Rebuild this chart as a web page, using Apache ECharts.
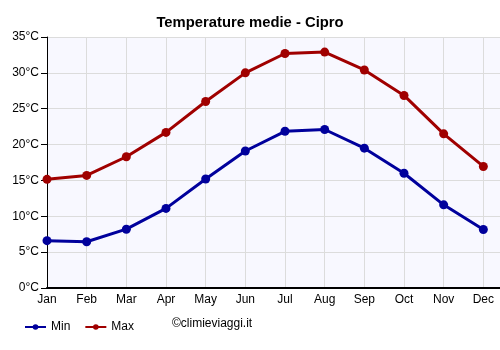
<!DOCTYPE html>
<html>
<head>
<meta charset="utf-8">
<script src="https://cdn.jsdelivr.net/npm/echarts@6/dist/echarts.min.js"></script>
<style>
  html, body { margin: 0; padding: 0; background: #fff; }
  #chart { width: 500px; height: 350px; }
</style>
</head>
<body>
<div id="chart"></div>
<script>
var months = ['Jan', 'Feb', 'Mar', 'Apr', 'May', 'Jun', 'Jul', 'Aug', 'Sep', 'Oct', 'Nov', 'Dec'];
var tMin = [6.6, 6.45, 8.2, 11.1, 15.2, 19.1, 21.85, 22.1, 19.5, 16.0, 11.6, 8.15];
var tMax = [15.15, 15.7, 18.3, 21.7, 26.0, 30.0, 32.7, 32.9, 30.4, 26.85, 21.5, 16.95];

function pairs(arr) {
  return arr.map(function (v, i) { return [i, v]; });
}

var chart = echarts.init(document.getElementById('chart'));
var option = {
  animation: false,
  title: {
    text: 'Temperature medie - Cipro',
    left: 'center',
    top: 10,
    textStyle: { fontFamily: 'Liberation Sans', fontSize: 14.8, fontWeight: 'bold', color: '#000' }
  },
  grid: {
    left: 47, right: 0, top: 37, bottom: 62,
    show: true, backgroundColor: '#f8f8ff', borderWidth: 0
  },
  legend: {
    left: 19, top: 316,
    itemWidth: 21, itemHeight: 7, itemGap: 14,
    textStyle: { fontFamily: 'Liberation Sans', fontSize: 12, color: '#000' },
    data: ['Min', 'Max']
  },
  graphic: [{
    type: 'text', left: 172, top: 318,
    style: { text: '©climieviaggi.it', fontFamily: 'Liberation Sans', fontSize: 12, fill: '#000' }
  }],
  xAxis: {
    type: 'value', min: 0, max: 11.42, interval: 1,
    axisLine: { show: true, lineStyle: { color: '#000', width: 2 } },
    axisTick: { show: false },
    axisLabel: {
      fontFamily: 'Liberation Sans', fontSize: 12, color: '#000', margin: 6,
      showMaxLabel: false,
      formatter: function (v) { return v === Math.round(v) ? months[v] : ''; }
    },
    splitLine: { show: true, lineStyle: { color: '#dcdcdc', width: 1 } }
  },
  yAxis: {
    type: 'value', min: 0, max: 35, interval: 5,
    axisLine: { show: true, lineStyle: { color: '#000', width: 1 } },
    axisTick: { show: true, length: 6, lineStyle: { color: '#000' } },
    axisLabel: { fontFamily: 'Liberation Sans', fontSize: 12, color: '#000', margin: 8, formatter: '{value}°C' },
    splitLine: { show: true, lineStyle: { color: '#dcdcdc', width: 1 } }
  },
  series: [
    {
      name: 'Min', type: 'line', data: pairs(tMin),
      symbol: 'circle', symbolSize: 9,
      lineStyle: { width: 3, color: '#00009c' },
      itemStyle: { color: '#00009c' }
    },
    {
      name: 'Max', type: 'line', data: pairs(tMax),
      symbol: 'circle', symbolSize: 9,
      lineStyle: { width: 3, color: '#a00000' },
      itemStyle: { color: '#a00000' }
    }
  ]
};
chart.setOption(option);
</script>
</body>
</html>
